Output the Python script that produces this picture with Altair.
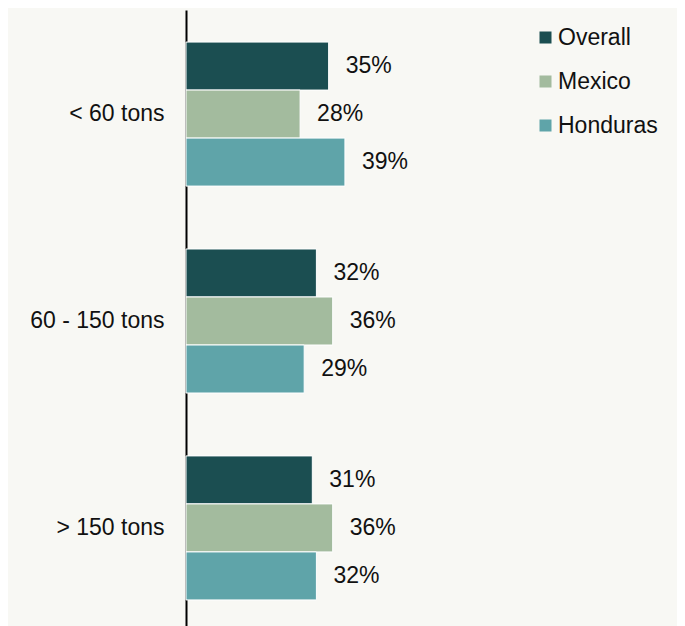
import altair as alt
import pandas as pd

categories = ["< 60 tons", "60 - 150 tons", "> 150 tons"]
series = ["Overall", "Mexico", "Honduras"]
overall = [35, 32, 31]
mexico = [28, 36, 36]
honduras = [39, 29, 32]
colors = ["#1b4e51", "#a3bb9e", "#5fa4a9"]

rows = []
for i, c in enumerate(categories):
    for s, vals in zip(series, [overall, mexico, honduras]):
        rows.append({"size": c, "group": s, "value": vals[i]})
df = pd.DataFrame(rows)

FONT = "Liberation Sans"

y_enc = alt.Y("size:N", sort=categories, title=None,
              scale=alt.Scale(paddingInner=0.304, paddingOuter=0.155),
              axis=alt.Axis(domainColor="#000000", domainWidth=2, ticks=False,
                            labelFontSize=23, labelFont=FONT, labelColor="#111111",
                            labelPadding=22, grid=False))
yoff = alt.YOffset("group:N", sort=series, scale=alt.Scale(paddingInner=0, paddingOuter=0))
x_enc = alt.X("value:Q", axis=None, scale=alt.Scale(domain=[0, 80]))

bars = alt.Chart(df).mark_bar(stroke="white", strokeWidth=1).encode(
    y=y_enc, yOffset=yoff, x=x_enc,
    color=alt.Color("group:N", sort=series,
                    scale=alt.Scale(domain=series, range=colors),
                    legend=alt.Legend(title=None, orient="none", legendX=348, legendY=16,
                                      symbolType="square", symbolSize=144,
                                      symbolStrokeWidth=0, labelFontSize=23,
                                      labelFont=FONT, labelColor="#111111",
                                      labelOffset=1, rowPadding=20)),
)

labels = alt.Chart(df).transform_calculate(
    label="datum.value + '%'"
).mark_text(align="left", baseline="middle", dx=17, fontSize=23, font=FONT,
            color="#111111").encode(
    y=alt.Y("size:N", sort=categories), yOffset=yoff, x=x_enc,
    text="label:N",
)

chart = (bars + labels).properties(
    width=326, height=622, background="#f8f8f4",
    autosize=alt.AutoSizeParams(type="none"),
    padding={"left": 178, "top": 2, "right": 165, "bottom": 0},
).configure_view(stroke=None)

chart.save("out.html", embed_options={"renderer": "svg", "actions": False})
